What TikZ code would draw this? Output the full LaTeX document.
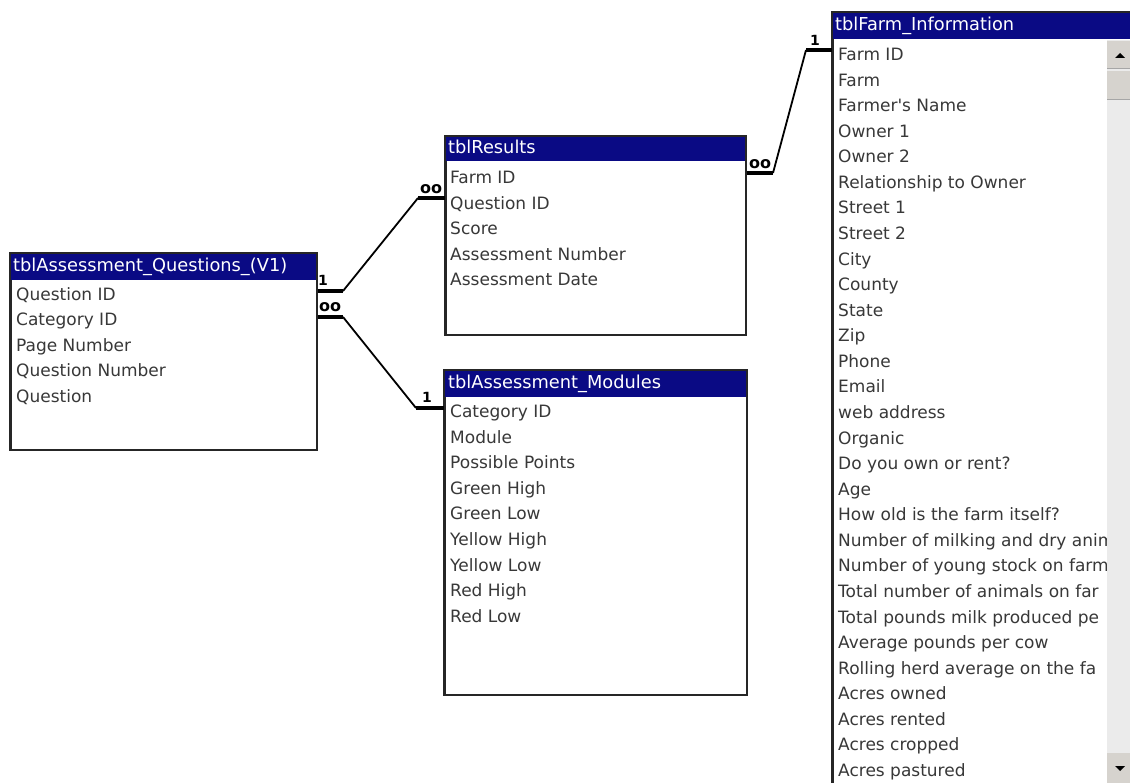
\documentclass[tikz,border=0pt]{standalone}
\usepackage{fontspec}
\setmainfont{DejaVu Sans}
\definecolor{hdr}{HTML}{0A0A84}
\definecolor{txt}{HTML}{383838}
\definecolor{sbtn}{HTML}{D6D3CE}
\definecolor{strack}{HTML}{EBEBEB}
\tikzset{
  tblbox/.style={draw=black!85, line width=1.6pt, fill=white, anchor=north west, inner sep=0pt},
  hdrbox/.style={fill=hdr, draw=none, anchor=north west, inner sep=0pt},
  hdrtext/.style={anchor=west, inner sep=0pt, text=white, text height=14pt, text depth=4pt, font=\fontsize{17.8}{17.8}\selectfont},
  field/.style={anchor=west, inner sep=0pt, text=txt, text height=14.5pt, text depth=3.5pt, font=\fontsize{17}{17}\selectfont},
  thinlink/.style={line width=1.8pt, black},
  thicklink/.style={line width=4.5pt, black},
  onelbl/.style={font=\bfseries\fontsize{14}{14}\selectfont, inner sep=0pt},
  manylbl/.style={font=\bfseries\fontsize{16}{16}\selectfont, inner sep=0pt},
  sbbtn/.style={fill=sbtn, draw=none, anchor=north west, inner sep=0pt},
}
\begin{document}
\begin{tikzpicture}[x=1pt,y=-1pt]
\useasboundingbox[fill=white] (0,0) rectangle (1130,783);

% ---------- tblAssessment_Questions_(V1)
\node[tblbox, minimum width=306pt, minimum height=196pt] (q) at (10,253) {};
\node[hdrbox, minimum width=306pt, minimum height=27pt] (qh) at (10,253) {};
\draw[black!85, line width=1.6pt] (q.north west) rectangle (q.south east);
\node[hdrtext] (qt) at (13,267) {tblAssessment\_Questions\_(V1)};
\node[field] (q1) at (16,295) {Question ID};
\node[field] (q2) at (16,320.5) {Category ID};
\node[field] (q3) at (16,346) {Page Number};
\node[field] (q4) at (16,371.5) {Question Number};
\node[field] (q5) at (16,397) {Question};

% ---------- tblResults
\node[tblbox, minimum width=300pt, minimum height=198pt] (r) at (445,136) {};
\node[hdrbox, minimum width=300pt, minimum height=25pt] (rh) at (445,136) {};
\draw[black!85, line width=1.6pt] (r.north west) rectangle (r.south east);
\node[hdrtext] (rt) at (448,148.5) {tblResults};
\node[field] (r1) at (450,178) {Farm ID};
\node[field] (r2) at (450,203.6) {Question ID};
\node[field] (r3) at (450,229.2) {Score};
\node[field] (r4) at (450,254.8) {Assessment Number};
\node[field] (r5) at (450,280.4) {Assessment Date};

% ---------- tblAssessment_Modules
\node[tblbox, minimum width=302pt, minimum height=324pt] (m) at (444,370) {};
\node[hdrbox, minimum width=302pt, minimum height=27pt] (mh) at (444,370) {};
\draw[black!85, line width=1.6pt] (m.north west) rectangle (m.south east);
\node[hdrtext] (mt) at (448,384) {tblAssessment\_Modules};
\node[field] (m1) at (450,412) {Category ID};
\node[field] (m2) at (450,437.6) {Module};
\node[field] (m3) at (450,463.2) {Possible Points};
\node[field] (m4) at (450,488.8) {Green High};
\node[field] (m5) at (450,514.4) {Green Low};
\node[field] (m6) at (450,540) {Yellow High};
\node[field] (m7) at (450,565.6) {Yellow Low};
\node[field] (m8) at (450,591.2) {Red High};
\node[field] (m9) at (450,616.8) {Red Low};

% ---------- tblFarm_Information
\node[tblbox, minimum width=310pt, minimum height=790pt] (f) at (832,12) {};
\node[hdrbox, minimum width=310pt, minimum height=27pt] (fh) at (832,12) {};
\draw[black!85, line width=1.6pt] (f.north west) rectangle (f.south east);
\node[hdrtext] (ft) at (835,25.5) {tblFarm\_Information};
\begin{scope}
\clip (833,40) rectangle (1107,783);
\foreach \t [count=\i from 0] in {Farm ID, Farm, Farmer\textquotesingle s Name, Owner 1, Owner 2,
  Relationship to Owner, Street 1, Street 2, City, County, State, Zip, Phone, Email,
  web address, Organic, Do you own or rent?, Age, How old is the farm itself?,
  Number of milking and dry anim, Number of young stock on farm,
  Total number of animals on far, Total pounds milk produced pe,
  Average pounds per cow, Rolling herd average on the fa,
  Acres owned, Acres rented, Acres cropped, Acres pastured}
  \node[field] (f\i) at (838,{55+25.57*\i}) {\t};
\end{scope}
% scrollbar
\fill[strack] (1107,40) rectangle (1130,783);
\node[sbbtn, minimum width=23pt, minimum height=27pt] (sup) at (1107,41) {};
\draw[black!35, line width=1pt] (1107,68.5) -- (1130,68.5);
\node[sbbtn, minimum width=23pt, minimum height=28pt] (sthumb) at (1107,71) {};
\draw[black!35, line width=1pt] (1107,99.5) -- (1130,99.5);
\node[sbbtn, minimum width=23pt, minimum height=30pt] (sdown) at (1107,753) {};
\fill[black] (1115,58) -- (1125,58) -- (1120,53) -- cycle;
\fill[black] (1115,766) -- (1125,766) -- (1120,771) -- cycle;

% ---------- relationships
% Questions (1) -- Results (oo)
\coordinate (qa) at (q.east |- 0,291);
\coordinate (qb) at (343,291);
\coordinate (rb) at (418,198);
\coordinate (ra) at (r.west |- 0,198);
\draw[thicklink] (qa) -- (qb);
\draw[thinlink] (qb) -- (rb);
\draw[thicklink] (rb) -- (ra);
\node[onelbl] (l1) at (323,280) {1};
\node[manylbl] (l2) at (431,189) {oo};

% Questions (oo) -- Modules (1)
\coordinate (qc) at (q.east |- 0,317);
\coordinate (qd) at (343,317);
\coordinate (md) at (416,408);
\coordinate (mc) at (m.west |- 0,408);
\draw[thicklink] (qc) -- (qd);
\draw[thinlink] (qd) -- (md);
\draw[thicklink] (md) -- (mc);
\node[manylbl] (l3) at (330,307) {oo};
\node[onelbl] (l4) at (427,397) {1};

% Results (oo) -- Farm (1)
\coordinate (re) at (r.east |- 0,173);
\coordinate (rf) at (773,173);
\coordinate (ff) at (806,50);
\coordinate (fe) at (f.west |- 0,50);
\draw[thicklink] (re) -- (rf);
\draw[thinlink] (rf) -- (ff);
\draw[thicklink] (ff) -- (fe);
\node[manylbl] (l5) at (760,164) {oo};
\node[onelbl] (l6) at (815,40) {1};
\end{tikzpicture}
\end{document}
